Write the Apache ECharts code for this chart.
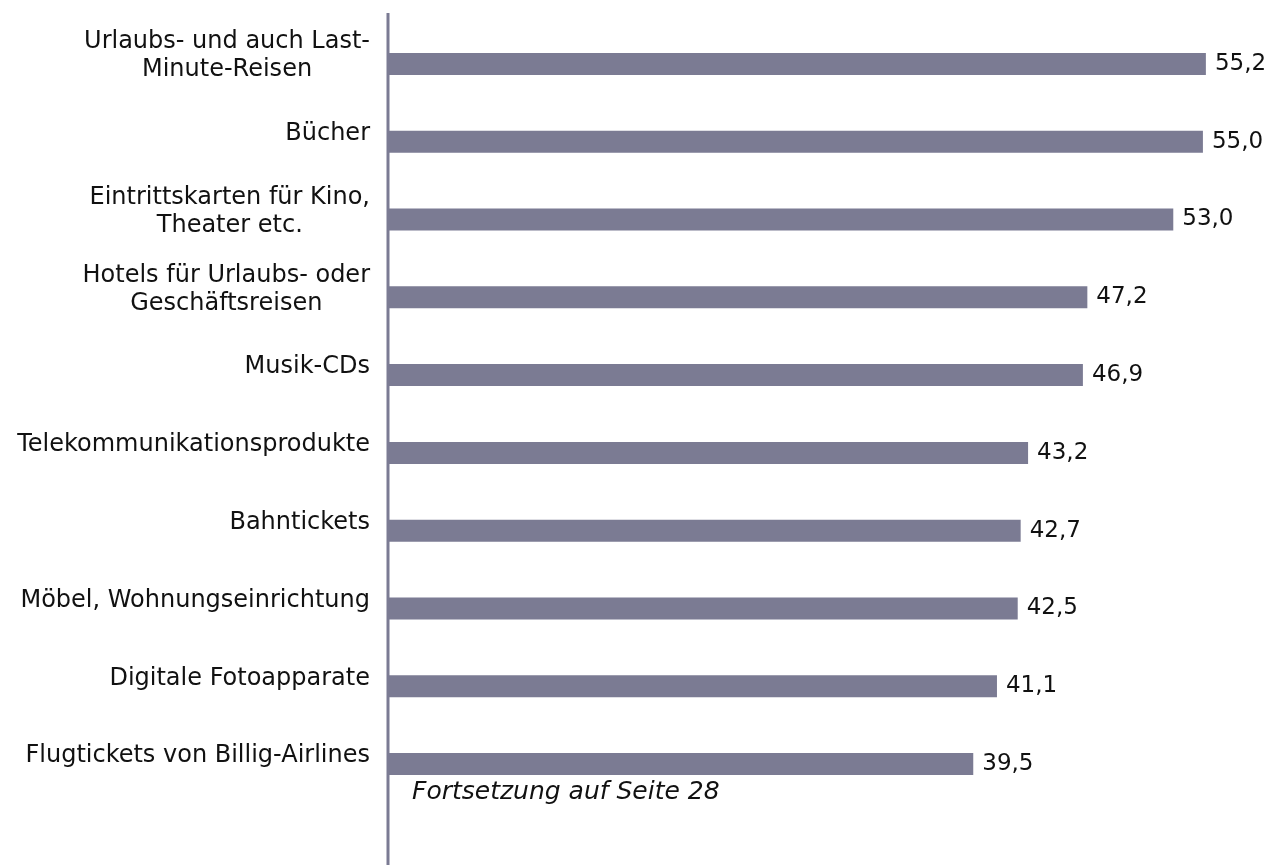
<!DOCTYPE html>
<html>
<head>
<meta charset="utf-8">
<script src="https://cdn.jsdelivr.net/npm/echarts@6/dist/echarts.min.js"></script>
<style>
html,body{margin:0;padding:0;background:#fff;}
#c{width:1282px;height:865px;}
</style>
</head>
<body>
<div id="c"></div>
<script>
const categories = [
  "Urlaubs- und auch Last-\nMinute-Reisen",
  "Bücher",
  "Eintrittskarten für Kino,\nTheater etc.",
  "Hotels für Urlaubs- oder\nGeschäftsreisen",
  "Musik-CDs",
  "Telekommunikationsprodukte",
  "Bahntickets",
  "Möbel, Wohnungseinrichtung",
  "Digitale Fotoapparate",
  "Flugtickets von Billig-Airlines"
];
const values = [55.2, 55.0, 53.0, 47.2, 46.9, 43.2, 42.7, 42.5, 41.1, 39.5];
const footnote = "Fortsetzung auf Seite 28";

const FONT = "DejaVu Sans";
const BAR = "#7b7b93";

const chart = echarts.init(document.getElementById('c'));
chart.setOption({
  backgroundColor: '#fff',
  animation: false,
  title: {
    text: footnote,
    left: 407,
    top: 775,
    textStyle: {fontFamily: FONT, fontSize: 25, fontStyle: 'italic', fontWeight: 'normal', color: '#111'}
  },
  grid: {left: 388, right: 5, top: 25, bottom: 62, containLabel: false},
  xAxis: {
    type: 'value', min: 0, max: 60, show: false
  },
  yAxis: {
    type: 'category',
    data: categories,
    inverse: true,
    axisLine: {show: false},
    axisTick: {show: false},
    axisLabel: {
      margin: 18,
      color: '#111',
      fontFamily: FONT,
      fontSize: 24,
      lineHeight: 28,
      padding: [0, 0, 16, 0],
      formatter: function (v) {
        return v.split('\n').map(s => '{c|' + s + '}').join('\n');
      },
      rich: {
        c: {align: 'center', fontFamily: FONT, fontSize: 24, lineHeight: 28, color: '#111'}
      }
    }
  },
  graphic: [{
    type: 'line',
    shape: {x1: 388, y1: 13, x2: 388, y2: 865},
    style: {stroke: BAR, lineWidth: 3},
    z: 10
  }],
  series: [{
    type: 'bar',
    data: values,
    barWidth: 22,
    itemStyle: {color: BAR},
    label: {
      show: true,
      position: 'right',
      distance: 9,
      fontFamily: FONT,
      fontSize: 23,
      color: '#111',
      formatter: p => p.value.toFixed(1).replace('.', ',')
    }
  }]
});
</script>
</body>
</html>
